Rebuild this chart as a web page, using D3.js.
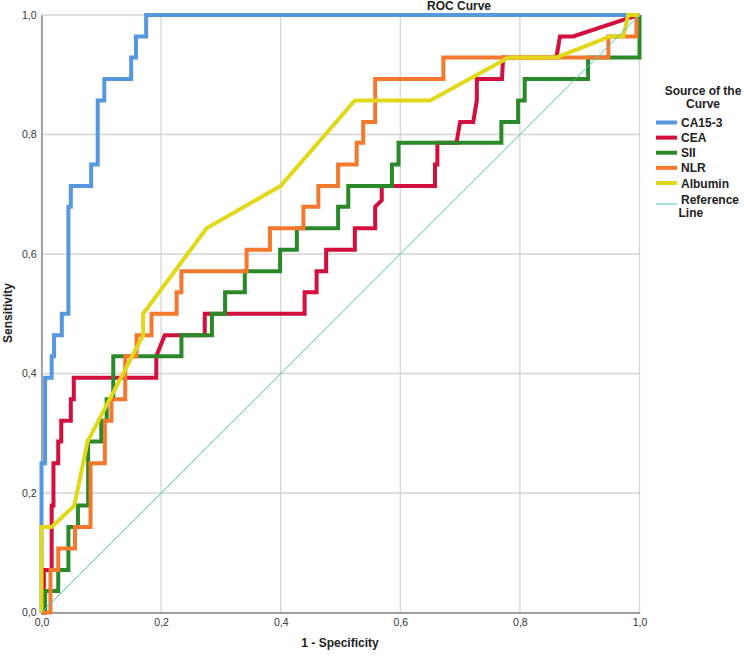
<!DOCTYPE html>
<html>
<head>
<meta charset="utf-8">
<script src="https://cdn.jsdelivr.net/npm/d3@7"></script>
<style>
  body { margin: 0; background: #fff; }
  #roc-vis { width: 744px; height: 656px; }
  text { font-family: "Liberation Sans", Arial, sans-serif; }
</style>
</head>
<body>
<div id="roc-vis"></div>
<script>

// series names, in legend order
let seriesNames = ["CA15-3", "CEA", "SII", "NLR", "Albumin"];

// [1 - specificity, sensitivity] vertices
let ca153Points = [[0, 0], [0, 0.25], [0.006, 0.25], [0.006, 0.393], [0.017, 0.393], [0.017, 0.429],
    [0.021, 0.429], [0.021, 0.464], [0.034, 0.464], [0.034, 0.5], [0.045, 0.5], [0.045, 0.679],
    [0.049, 0.679], [0.049, 0.714], [0.083, 0.714], [0.083, 0.75], [0.094, 0.75], [0.094, 0.857],
    [0.105, 0.857], [0.105, 0.893], [0.15, 0.893], [0.15, 0.929], [0.158, 0.929], [0.158, 0.964],
    [0.175, 0.964], [0.175, 1], [1, 1]];

let ceaPoints = [[0, 0], [0.004, 0], [0.004, 0.071], [0.017, 0.071], [0.017, 0.179], [0.02, 0.179],
    [0.02, 0.25], [0.028, 0.25], [0.028, 0.286], [0.033, 0.286], [0.033, 0.321], [0.049, 0.321],
    [0.049, 0.357], [0.054, 0.357], [0.054, 0.393], [0.192, 0.393], [0.192, 0.429], [0.206, 0.464],
    [0.273, 0.464], [0.273, 0.5], [0.44, 0.5], [0.44, 0.536], [0.46, 0.536], [0.46, 0.571],
    [0.476, 0.571], [0.476, 0.607], [0.524, 0.607], [0.524, 0.643], [0.558, 0.643], [0.558, 0.679],
    [0.569, 0.69], [0.569, 0.714], [0.658, 0.714], [0.658, 0.75], [0.662, 0.75], [0.662, 0.786],
    [0.694, 0.786], [0.7, 0.821], [0.722, 0.821], [0.728, 0.857], [0.728, 0.893], [0.77, 0.893],
    [0.772, 0.929], [0.861, 0.929], [0.867, 0.964], [0.889, 0.964], [0.979, 0.994], [1, 1]];

let siiPoints = [[0, 0], [0.006, 0], [0.006, 0.036], [0.028, 0.036], [0.028, 0.071], [0.045, 0.071],
    [0.045, 0.143], [0.061, 0.143], [0.061, 0.179], [0.078, 0.179], [0.078, 0.286], [0.1, 0.286],
    [0.1, 0.321], [0.109, 0.321], [0.109, 0.357], [0.12, 0.357], [0.12, 0.429], [0.234, 0.429],
    [0.234, 0.464], [0.285, 0.464], [0.285, 0.5], [0.307, 0.5], [0.307, 0.536], [0.34, 0.536],
    [0.34, 0.571], [0.399, 0.571], [0.399, 0.607], [0.427, 0.607], [0.427, 0.643], [0.496, 0.643],
    [0.496, 0.679], [0.513, 0.679], [0.513, 0.714], [0.586, 0.714], [0.586, 0.75], [0.597, 0.75],
    [0.597, 0.786], [0.769, 0.786], [0.769, 0.821], [0.797, 0.821], [0.797, 0.857], [0.808, 0.857],
    [0.808, 0.893], [0.914, 0.893], [0.914, 0.929], [1, 0.929], [1, 1]];

let nlrPoints = [[0, 0], [0.015, 0], [0.015, 0.071], [0.028, 0.071], [0.028, 0.107], [0.056, 0.107],
    [0.056, 0.143], [0.082, 0.143], [0.082, 0.25], [0.106, 0.25], [0.106, 0.321], [0.117, 0.321],
    [0.117, 0.357], [0.14, 0.357], [0.14, 0.429], [0.159, 0.429], [0.159, 0.464], [0.184, 0.464],
    [0.184, 0.5], [0.226, 0.5], [0.226, 0.536], [0.234, 0.536], [0.234, 0.571], [0.343, 0.571],
    [0.343, 0.607], [0.382, 0.607], [0.382, 0.643], [0.438, 0.643], [0.438, 0.679], [0.463, 0.679],
    [0.463, 0.714], [0.496, 0.714], [0.496, 0.75], [0.527, 0.75], [0.527, 0.786], [0.538, 0.786],
    [0.538, 0.821], [0.558, 0.821], [0.558, 0.893], [0.672, 0.893], [0.672, 0.929], [0.948, 0.929],
    [0.948, 0.964], [0.995, 0.964], [0.995, 1], [1, 1]];

let albuminPoints = [[0, 0], [0, 0.143], [0.017, 0.143], [0.055, 0.179], [0.077, 0.286], [0.17, 0.464],
    [0.17, 0.5], [0.276, 0.643], [0.4, 0.714], [0.524, 0.857], [0.65, 0.857], [0.781, 0.929],
    [0.861, 0.929], [0.951, 0.964], [0.973, 0.964], [0.981, 1], [1, 1]];

let referencePoints = [[0, 0], [1, 1]];

let tickValues = [0, 0.2, 0.4, 0.6, 0.8, 1.0];

let seriesColors = ["#5598e0", "#d20f3d", "#2a8a2a", "#f4782e", "#e0d818"];
let referenceColor = "#4cc4b6";

let svgWidth = 744;
let svgHeight = 656;

let svg = d3.select('#roc-vis').append('svg')
    .attr('width', svgWidth)
    .attr('height', svgHeight);

let xScale = d3.scaleLinear().domain([0, 1]).range([41.5, 639.5]);
let yScale = d3.scaleLinear().domain([0, 1]).range([612.5, 15]);

let fmt = d => d3.format(".1f")(d).replace(".", ",");

// grid lines
svg.append("g")
    .selectAll("line")
    .data(tickValues)
    .join("line")
    .attr("x1", d => xScale(d)).attr("x2", d => xScale(d))
    .attr("y1", yScale(0)).attr("y2", yScale(1))
    .attr("stroke", "#d4d4d4")
    .attr("stroke-width", 1.3);

svg.append("g")
    .selectAll("line")
    .data(tickValues)
    .join("line")
    .attr("x1", xScale(0)).attr("x2", xScale(1))
    .attr("y1", d => yScale(d)).attr("y2", d => yScale(d))
    .attr("stroke", "#d4d4d4")
    .attr("stroke-width", 1.3);

// axes
let xAxis = svg.append("g")
    .attr("transform", `translate(0,${yScale(0)})`)
    .call(d3.axisBottom(xScale).tickValues(tickValues).tickFormat(fmt).tickSize(0).tickPadding(6));

let yAxis = svg.append("g")
    .attr("transform", `translate(${xScale(0)},0)`)
    .call(d3.axisLeft(yScale).tickValues(tickValues).tickFormat(fmt).tickSize(0).tickPadding(5));

[xAxis, yAxis].forEach(ax => {
    ax.select(".domain").attr("stroke", "#8c8c8c").attr("stroke-width", 1.5);
    ax.selectAll("text")
        .attr("fill", "#333")
        .style("font-size", "10.5px")
        .style("font-family", '"Liberation Sans", Arial, sans-serif');
});

// curves
let line = d3.line()
    .x(d => xScale(d[0]))
    .y(d => yScale(d[1]));

let curves = [ca153Points, ceaPoints, siiPoints, nlrPoints, albuminPoints];

curves.forEach((pts, i) => {
    svg.append("path")
        .datum(pts)
        .attr("fill", "none")
        .attr("stroke", seriesColors[i])
        .attr("stroke-width", 4)
        .attr("stroke-linejoin", "miter")
        .attr("d", line);
});

svg.append("path")
    .datum(referencePoints)
    .attr("fill", "none")
    .attr("stroke", referenceColor)
    .attr("stroke-width", 1)
    .attr("d", line);

// titles
svg.append("text")
    .attr("x", 459).attr("y", 10)
    .attr("text-anchor", "middle")
    .style("font-size", "12px").style("font-weight", "bold")
    .attr("fill", "#222")
    .text("ROC Curve");

svg.append("text")
    .attr("x", 340).attr("y", 647)
    .attr("text-anchor", "middle")
    .style("font-size", "12px").style("font-weight", "bold")
    .attr("fill", "#222")
    .text("1 - Specificity");

svg.append("text")
    .attr("transform", "translate(12,313) rotate(-90)")
    .attr("text-anchor", "middle")
    .style("font-size", "12px").style("font-weight", "bold")
    .attr("fill", "#222")
    .text("Sensitivity");

// legend
let legend = svg.append("g");

legend.append("text")
    .attr("x", 703).attr("y", 95)
    .attr("text-anchor", "middle")
    .style("font-size", "12px").style("font-weight", "bold")
    .attr("fill", "#222")
    .text("Source of the");

legend.append("text")
    .attr("x", 703).attr("y", 108)
    .attr("text-anchor", "middle")
    .style("font-size", "12px").style("font-weight", "bold")
    .attr("fill", "#222")
    .text("Curve");

let legendY = d3.scalePoint().domain(seriesNames).range([122.5, 183]);

let items = legend.selectAll("g.item")
    .data(seriesNames)
    .join("g")
    .attr("class", "item")
    .attr("transform", d => `translate(0,${legendY(d)})`);

items.append("line")
    .attr("x1", 656).attr("x2", 677)
    .attr("stroke", (d, i) => seriesColors[i])
    .attr("stroke-width", 4);

items.append("text")
    .attr("x", 681).attr("y", 4.5)
    .style("font-size", "12px").style("font-weight", "bold")
    .attr("fill", "#222")
    .text(d => d);

legend.append("line")
    .attr("x1", 656).attr("x2", 677)
    .attr("y1", 204).attr("y2", 204)
    .attr("stroke", referenceColor)
    .attr("stroke-width", 1);

legend.append("text")
    .attr("x", 681).attr("y", 204)
    .style("font-size", "12px").style("font-weight", "bold")
    .attr("fill", "#222")
    .text("Reference");

legend.append("text")
    .attr("x", 678.5).attr("y", 216.5)
    .style("font-size", "12px").style("font-weight", "bold")
    .attr("fill", "#222")
    .text("Line");

</script>
</body>
</html>
